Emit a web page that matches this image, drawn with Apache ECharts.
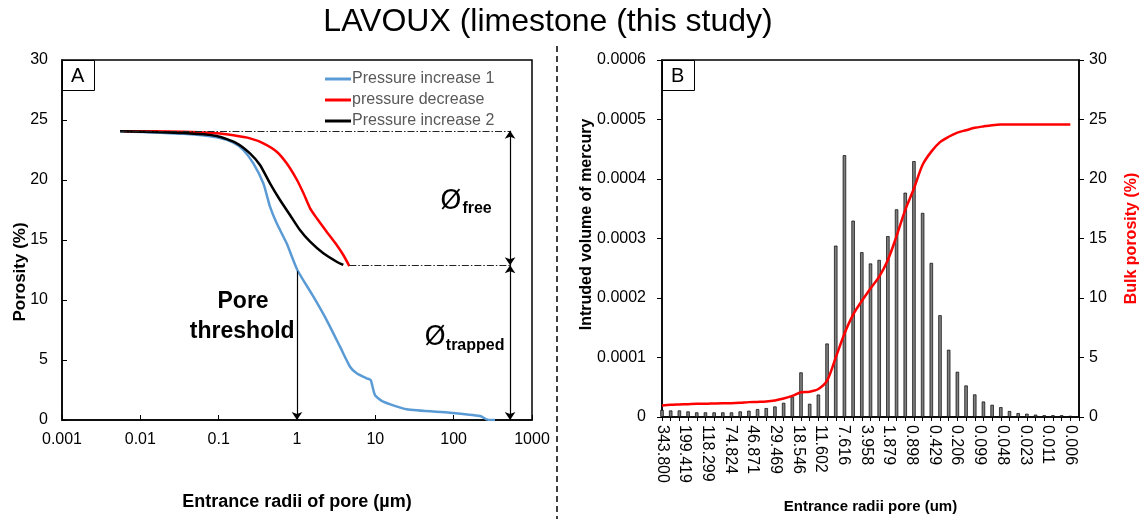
<!DOCTYPE html>
<html><head><meta charset="utf-8">
<script src="https://cdn.jsdelivr.net/npm/echarts@6/dist/echarts.min.js"></script>
<style>html,body{margin:0;padding:0;background:#fff}#c{width:1146px;height:519px}</style>
</head><body><div id="c"></div>
<script>
// ---------- Panel A : porosity vs entrance radius (log x) ----------
const inc1Radius   = [0.00555, 0.0354, 0.0944, 0.154, 0.206, 0.277, 0.372, 0.452, 0.551, 0.738, 1.01, 1.62, 2.39, 3.54, 4.75, 5.78, 7.76, 8.73, 9.9, 12.6, 25.1, 89.7, 217, 264, 300, 337];
const inc1Porosity = [24.07, 23.85, 23.56, 23.11, 22.5, 21.39, 19.72, 17.78, 16.39, 14.72, 12.5, 10.28, 8.33, 6.11, 4.44, 3.89, 3.47, 3.33, 2.08, 1.53, 0.89, 0.61, 0.33, 0.05, 0.0, 0.0];
const decRadius    = [0.0062, 0.0354, 0.0944, 0.154, 0.251, 0.372, 0.551, 0.738, 1.0, 1.21, 1.47, 1.79, 2.39, 3.21, 3.90, 4.66];
const decPorosity  = [24.07, 24.03, 23.89, 23.72, 23.47, 23.06, 22.36, 21.39, 20.0, 18.89, 17.64, 16.81, 15.69, 14.58, 13.75, 12.83];
const inc2Radius   = [0.0055, 0.0354, 0.0944, 0.170, 0.251, 0.337, 0.452, 0.607, 0.814, 1.09, 1.47, 2.17, 3.21, 3.90];
const inc2Porosity = [24.07, 23.92, 23.67, 23.06, 22.22, 21.25, 19.72, 18.33, 17.08, 15.83, 14.86, 13.89, 13.19, 12.92];
const seriesNamesA = ['Pressure increase 1', 'pressure decrease', 'Pressure increase 2'];
const freeLevel = 24.1, trappedLevel = 12.9, thresholdRadius = 1, thresholdPorosity = 12.4, annotRadius = 525;

// ---------- Panel B : incremental intrusion histogram ----------
const radiiLabels = ['343.800','199.419','118.299','74.824','46.871','29.469','18.546','11.602','7.616','3.958','1.879','0.898','0.429','0.206','0.099','0.048','0.023','0.011','0.006'];
const intrudedVolume = [0.000012, 0.000011, 0.000011, 0.0000094, 0.0000078, 0.0000078, 0.0000078, 0.0000078, 0.0000078, 0.0000094,
  0.0000105, 0.0000133, 0.000015, 0.0000177, 0.0000238, 0.000034, 0.000075, 0.0000222, 0.0000377, 0.0001235,
  0.000288, 0.00044, 0.00033, 0.000277, 0.000258, 0.000264, 0.000304, 0.000349, 0.000377, 0.00043,
  0.000343, 0.000259, 0.000171, 0.000113, 0.000076, 0.000053, 0.000038, 0.000026, 0.0000205, 0.0000166,
  0.00001, 0.0000066, 0.0000055, 0.000004, 0.000003, 0.000003, 0.000003, 0.000002];
const bulkPorosity = [0.97, 1.02, 1.05, 1.08, 1.11, 1.11, 1.14, 1.16, 1.16, 1.19,
  1.25, 1.27, 1.30, 1.39, 1.55, 1.77, 2.08, 2.13, 2.35, 3.05,
  5.0, 7.0, 8.6, 9.75, 10.8, 11.8, 13.2, 15.2, 17.4, 19.2,
  21.2, 22.3, 23.1, 23.55, 23.9, 24.1, 24.3, 24.42, 24.52, 24.57,
  24.57, 24.57, 24.57, 24.57, 24.57, 24.57, 24.57, 24.57];

const FONT = 'Liberation Sans, Arial, sans-serif';
const zip = (a, b) => a.map((v, i) => [v, b[i]]);
const nBars = intrudedVolume.length;
const barCats = Array.from({length: nBars + 1}, (_, i) => String(i));
const labelStep = (nBars - 1) / (radiiLabels.length - 1);

const chart = echarts.init(document.getElementById('c'), null, {renderer: 'canvas'});

const dashDot = {type: [7, 2, 1.5, 2], color: '#222', width: 1};
const arrowLine = {type: 'solid', color: '#000', width: 1.2};
const txt = (coord, text, size, bold, family) => ({coord, label: {show: true, position: 'inside', formatter: text,
  fontSize: size, fontWeight: bold ? 'bold' : 'normal', color: '#000', fontFamily: family || FONT}});

chart.setOption({
  animation: false,
  backgroundColor: '#fff',
  textStyle: {fontFamily: FONT},
  title: [
    {text: 'LAVOUX (limestone (this study)', left: 543, top: 1, textAlign: 'center',
     textStyle: {fontSize: 32, fontWeight: 'normal', color: '#000', fontFamily: FONT}},
    {text: 'A', left: 62, top: 60, padding: [6, 10, 5, 9], borderColor: '#000', borderWidth: 1, backgroundColor: '#fff',
     textStyle: {fontSize: 20, fontWeight: 'normal', color: '#000', fontFamily: FONT}},
    {text: 'B', left: 662, top: 60, padding: [6, 10, 5, 9], borderColor: '#000', borderWidth: 1, backgroundColor: '#fff',
     textStyle: {fontSize: 20, fontWeight: 'normal', color: '#000', fontFamily: FONT}}
  ],
  legend: {
    data: seriesNamesA, orient: 'vertical', left: 320, top: 66, itemGap: 5,
    itemWidth: 26, itemHeight: 3, icon: 'rect', selectedMode: false,
    textStyle: {fontSize: 16, color: '#595959', fontFamily: FONT, padding: [0, 0, 0, -4]}
  },
  grid: [
    {left: 62, right: 614, top: 60, bottom: 99, show: true, borderColor: '#000', borderWidth: 1.5},
    {left: 662, right: 67, top: 60, bottom: 99, show: true, borderColor: '#000', borderWidth: 1.5}
  ],
  xAxis: [
    {type: 'log', logBase: 10, min: 0.001, max: 1000, gridIndex: 0,
     name: 'Entrance radii of pore (µm)', nameLocation: 'middle', nameGap: 73, nameMoveOverlap: false,
     nameTextStyle: {fontSize: 18, fontWeight: 'bold', color: '#000', fontFamily: FONT},
     axisLine: {lineStyle: {color: '#000', width: 1.5}},
     axisTick: {inside: true, length: 5, lineStyle: {color: '#000'}},
     minorTick: {show: false}, splitLine: {show: false},
     axisLabel: {fontSize: 16, color: '#000', margin: 12, fontFamily: FONT,
       formatter: v => String(Number(v.toPrecision(6)))}},
    {type: 'category', data: barCats, gridIndex: 1, boundaryGap: false,
     axisLine: {lineStyle: {color: '#000', width: 1.5}},
     axisTick: {show: true, inside: false, length: 4, interval: 0, lineStyle: {color: '#000'}},
     axisLabel: {show: false}, splitLine: {show: false}},
    {type: 'value', gridIndex: 1, min: 0, max: nBars, interval: labelStep, position: 'bottom',
     name: 'Entrance radii pore (um)', nameLocation: 'middle', nameGap: 82, nameMoveOverlap: false,
     nameTextStyle: {fontSize: 15, fontWeight: 'bold', color: '#000', fontFamily: FONT},
     axisLine: {show: false}, axisTick: {show: false}, splitLine: {show: false},
     axisLabel: {rotate: -90, fontSize: 16, color: '#000', margin: 8, fontFamily: FONT, showMaxLabel: true, showMinLabel: true,
       formatter: v => { const k = v / labelStep; const r = Math.round(k);
         return (Math.abs(k - r) < 1e-6 && r < radiiLabels.length) ? radiiLabels[r] : ''; }}}
  ],
  yAxis: [
    {type: 'value', min: 0, max: 30, interval: 5, gridIndex: 0,
     name: 'Porosity (%)', nameLocation: 'middle', nameGap: 33, nameRotate: 90, nameMoveOverlap: false,
     nameTextStyle: {fontSize: 17, fontWeight: 'bold', color: '#000', fontFamily: FONT, padding: [0, 64, 0, 0]},
     axisLine: {show: true, lineStyle: {color: '#000', width: 1.5}},
     axisTick: {show: true, inside: true, length: 5, lineStyle: {color: '#000'}},
     splitLine: {show: false},
     axisLabel: {fontSize: 16, color: '#000', margin: 14, fontFamily: FONT}},
    {type: 'value', min: 0, max: 0.0006, interval: 0.0001, gridIndex: 1,
     name: 'Intruded volume of mercury', nameLocation: 'middle', nameGap: 67, nameRotate: 90, nameMoveOverlap: false,
     nameTextStyle: {fontSize: 16, fontWeight: 'bold', color: '#000', fontFamily: FONT, padding: [0, 0, 0, 28]},
     axisLine: {show: true, lineStyle: {color: '#000', width: 1.5}},
     axisTick: {show: true, inside: false, length: 5, lineStyle: {color: '#000'}},
     splitLine: {show: false},
     axisLabel: {fontSize: 16, color: '#000', margin: 16, fontFamily: FONT}},
    {type: 'value', min: 0, max: 30, interval: 5, gridIndex: 1, position: 'right',
     name: 'Bulk porosity (%)', nameLocation: 'middle', nameGap: 45, nameRotate: 90, nameMoveOverlap: false,
     nameTextStyle: {fontSize: 16, fontWeight: 'bold', color: '#FF0000', fontFamily: FONT},
     axisLine: {show: true, lineStyle: {color: '#000', width: 1.5}},
     axisTick: {show: true, inside: false, length: 5, lineStyle: {color: '#000'}},
     splitLine: {show: false},
     axisLabel: {fontSize: 16, color: '#000', margin: 10, fontFamily: FONT}}
  ],
  series: [
    {name: seriesNamesA[0], type: 'line', xAxisIndex: 0, yAxisIndex: 0, data: zip(inc1Radius, inc1Porosity),
     smooth: 0.2, showSymbol: false, symbol: 'none', color: '#5B9BD5', lineStyle: {width: 2.5, color: '#5B9BD5'}},
    {name: seriesNamesA[1], type: 'line', xAxisIndex: 0, yAxisIndex: 0, data: zip(decRadius, decPorosity),
     smooth: 0.2, showSymbol: false, symbol: 'none', color: '#FF0000', lineStyle: {width: 2.5, color: '#FF0000'}},
    {name: seriesNamesA[2], type: 'line', xAxisIndex: 0, yAxisIndex: 0, data: zip(inc2Radius, inc2Porosity),
     smooth: 0.2, showSymbol: false, symbol: 'none', color: '#000', lineStyle: {width: 2.5, color: '#000'},
     markLine: {
       silent: true, symbol: ['none', 'none'], symbolSize: 8, label: {show: false},
       data: [
         [{coord: [inc2Radius[0], freeLevel], lineStyle: dashDot}, {coord: [annotRadius, freeLevel]}],
         [{coord: [decRadius[decRadius.length - 1], trappedLevel], lineStyle: dashDot}, {coord: [annotRadius, trappedLevel]}],
         [{coord: [annotRadius, freeLevel], symbol: 'arrow', lineStyle: arrowLine}, {coord: [annotRadius, trappedLevel], symbol: 'arrow'}],
         [{coord: [annotRadius, trappedLevel], symbol: 'arrow', lineStyle: arrowLine}, {coord: [annotRadius, 0], symbol: 'arrow'}],
         [{coord: [thresholdRadius, thresholdPorosity], symbol: 'none', lineStyle: arrowLine}, {coord: [thresholdRadius, 0], symbol: 'arrow'}]
       ]
     },
     markPoint: {
       silent: true, symbol: 'circle', symbolSize: 1, itemStyle: {color: 'rgba(0,0,0,0)'},
       data: [
         txt([92, 18.15], 'Ø', 27, false, 'DejaVu Sans'),
         txt([199, 17.6], 'free', 16, true),
         txt([57.8, 6.85], 'Ø', 27, false, 'DejaVu Sans'),
         txt([188, 6.2], 'trapped', 16, true),
         txt([0.205, 9.9], 'Pore', 23, true),
         txt([0.2, 7.4], 'threshold', 23, true)
       ]
     }},
    {name: 'Intruded volume', type: 'bar', xAxisIndex: 1, yAxisIndex: 1, data: intrudedVolume,
     barWidth: 3.4, itemStyle: {color: '#7f7f7f', borderColor: '#000', borderWidth: 0.7}},
    {name: 'Bulk porosity', type: 'line', xAxisIndex: 1, yAxisIndex: 2, data: bulkPorosity,
     smooth: 0.3, showSymbol: false, symbol: 'none', color: '#FF0000', lineStyle: {width: 2.5, color: '#FF0000'}}
  ],
  graphic: [
    {type: 'line', shape: {x1: 557, y1: 46, x2: 557, y2: 519}, style: {stroke: '#000', lineWidth: 1.5, lineDash: [6, 4]}, silent: true}
  ]
});
</script></body></html>
